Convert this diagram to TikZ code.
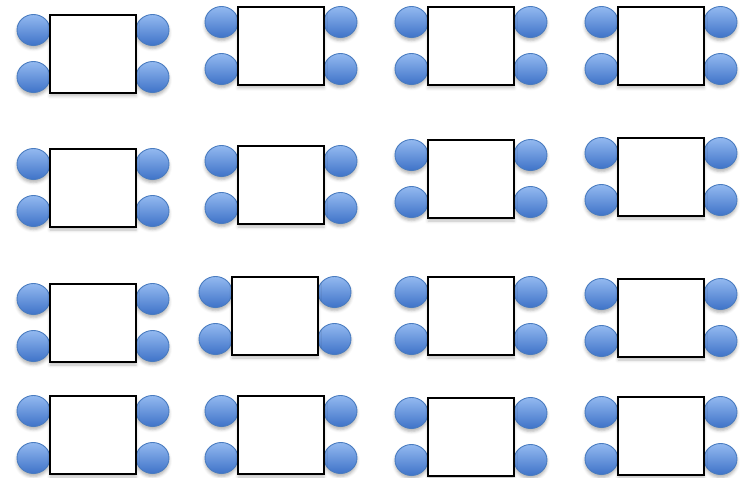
\documentclass[tikz,border=0pt]{standalone}
\usetikzlibrary{shapes.geometric,shadows.blur}
\definecolor{ballTop}{HTML}{93B9F0}
\definecolor{ballBot}{HTML}{3F73C8}
\definecolor{ballLine}{HTML}{4A7CC0}
\tikzset{
  ball/.style={ellipse, minimum width=33pt, minimum height=31pt, inner sep=0pt,
    draw=ballLine, line width=0.9pt, top color=ballTop, bottom color=ballBot,
    blur shadow={shadow xshift=0pt, shadow yshift=-3pt, shadow opacity=30, shadow blur radius=3pt}},
  table/.style={rectangle, minimum width=86pt, minimum height=78pt, inner sep=0pt,
    draw=black, line width=1.2pt, fill=white,
    blur shadow={shadow xshift=0pt, shadow yshift=-3pt, shadow opacity=25, shadow blur radius=3pt}}
}
\begin{document}
\begin{tikzpicture}[x=1pt,y=-1pt]
\useasboundingbox (0,0) rectangle (750,478);
\foreach \i/\x/\y in {1/50/15, 2/238/7, 3/428/7, 4/618/7,
                      5/50/149, 6/238/146, 7/428/140, 8/618/138,
                      9/50/284, 10/232/277, 11/428/277, 12/618/279,
                      13/50/396, 14/238/396, 15/428/398, 16/618/397}{
  \node[ball] (lt\i) at (\x-16.5,\y+15) {};
  \node[ball] (lb\i) at (\x-16.5,\y+62) {};
  \node[ball] (rt\i) at (\x+102.5,\y+15) {};
  \node[ball] (rb\i) at (\x+102.5,\y+62) {};
  \node[table] (t\i) at (\x+43,\y+39) {};
}
\end{tikzpicture}
\end{document}
